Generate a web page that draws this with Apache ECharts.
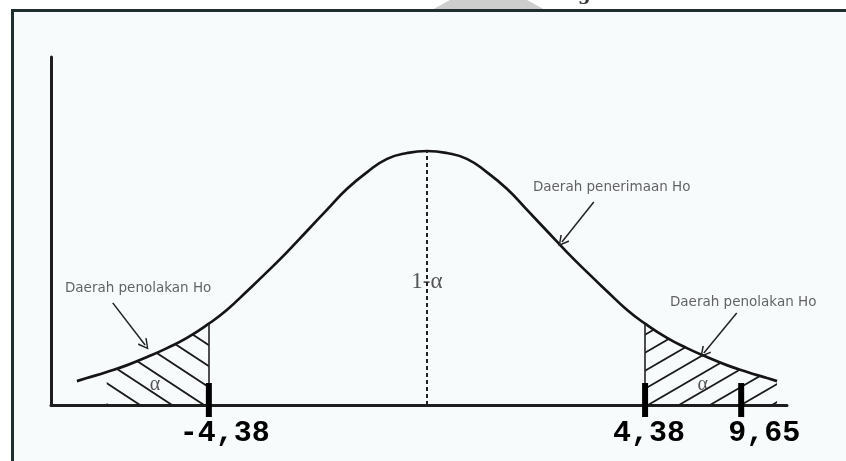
<!DOCTYPE html>
<html>
<head>
<meta charset="utf-8">
<script src="https://cdn.jsdelivr.net/npm/echarts@6.0.0/dist/echarts.min.js"></script>
<style>
html,body{margin:0;padding:0;background:#ffffff;}
#chart{width:846px;height:461px;}
</style>
</head>
<body>
<div id="chart"></div>
<script>
// ---- data ----
const curveX = [-7.03,-6.83,-6.43,-6.02,-5.62,-5.22,-4.82,-4.38,-4.02,-3.61,-3.21,-2.81,-2.41,-2.01,-1.61,-1.20,-0.80,-0.40,0,0.40,0.80,1.20,1.61,2.01,2.41,2.81,3.21,3.61,4.02,4.38,4.82,5.22,5.62,6.02,6.43,6.83,7.03];
const curveY = [9.4,10.6,13.0,15.7,18.9,22.4,26.4,32.0,37.4,44.9,52.4,60.2,68.5,76.8,85.0,91.7,96.9,99.2,100,99.2,96.9,91.7,85.0,76.8,68.5,60.2,52.4,44.9,37.4,32.0,26.4,22.4,18.9,15.7,13.0,10.6,9.4];
const criticalValues = [-4.38, 4.38];
const leftTailFrom = -6.5;
const tickPositions = [-4.38, 4.38, 6.31];
const tickLabels = ['-4,38', '4,38', '9,65'];
const regionTexts = ['Daerah penolakan Ho', 'Daerah penolakan Ho', 'Daerah penerimaan Ho'];
const regionTextPos = [[-5.80, 45.7], [6.35, 40.2], [3.71, 85.8]];
const arrowFrom = [[-6.31, 40.2], [6.22, 36.2], [3.35, 79.9]];
const arrowTo = [[-5.66, 23.6], [5.56, 20.5], [2.71, 64.2]];
const greekTexts = ['α', 'α', '1-α'];
const greekPos = [[-5.46, 7.9], [5.54, 7.9], [0, 48.4]];

// ---- helpers ----
const curve = curveX.map((x, i) => [x, curveY[i]]);
const yAt = (x) => curve[curveX.indexOf(x)][1];
const leftTail = curve.filter(p => p[0] >= leftTailFrom && p[0] <= criticalValues[0]);
const rightTail = curve.filter(p => p[0] >= criticalValues[1]);
const peak = curve.reduce((a, b) => (b[1] > a[1] ? b : a));

function hatch(W, H, phase, dir) {
  const c = document.createElement('canvas');
  c.width = W; c.height = H;
  const g = c.getContext('2d');
  g.strokeStyle = '#1a1a1a';
  g.lineWidth = 1.8;
  for (let k = -4; k <= 4; k++) {
    const c0 = phase + k * W;
    g.beginPath();
    if (dir === 'back') { g.moveTo(c0 - W, -H); g.lineTo(c0 + 2 * W, 2 * H); }
    else { g.moveTo(c0 + W, -H); g.lineTo(c0 - 2 * W, 2 * H); }
    g.stroke();
  }
  return { image: c, repeat: 'repeat' };
}

const chart = echarts.init(document.getElementById('chart'), null, { renderer: 'canvas' });

const textFont = { fontFamily: 'DejaVu Sans', fontSize: 13.5, color: '#3c3c3c' };
const labelOffsets = [[16, 0], [4, 0], [23, 0]];

const option = {
  animation: false,
  backgroundColor: '#ffffff',
  graphic: [
    { type: 'polygon', z: 0, shape: { points: [[430, 11], [450, 0], [527, 0], [547, 11]] }, style: { fill: '#cdcdcd' } },
    { type: 'text', z: 0, style: { text: 'g', x: 578, y: 4, font: 'bold 18px "DejaVu Serif"', fill: '#333', verticalAlign: 'bottom' } },
    { type: 'rect', z: 0, shape: { x: 12.5, y: 10.5, width: 900, height: 500 }, style: { fill: '#f8fbfc', stroke: '#1f2f2f', lineWidth: 3 } }
  ],
  grid: { left: 51, right: 59, top: 57, bottom: 56 },
  xAxis: {
    type: 'value', min: -7.55, max: 7.23,
    axisLine: { show: true, onZero: false, lineStyle: { color: '#1e1e1e', width: 3 } },
    axisTick: { show: false }, axisLabel: { show: false }, splitLine: { show: false }
  },
  yAxis: {
    type: 'value', min: 0, max: 137,
    axisLine: { show: true, onZero: false, lineStyle: { color: '#1e1e1e', width: 3 } },
    axisTick: { show: false }, axisLabel: { show: false }, splitLine: { show: false }
  },
  series: [
    {
      type: 'line', name: 'leftTail', data: leftTail, smooth: true, showSymbol: false,
      lineStyle: { width: 0 }, areaStyle: { color: hatch(32, 21, 2.9, 'back'), opacity: 1 }, z: 2
    },
    {
      type: 'line', name: 'rightTail', data: rightTail, smooth: true, showSymbol: false,
      lineStyle: { width: 0 }, areaStyle: { color: hatch(31, 18, 12.5, 'fwd'), opacity: 1 }, z: 2
    },
    {
      type: 'line', name: 'curve', data: curve, smooth: true, showSymbol: false,
      lineStyle: { color: '#151515', width: 2.7 }, z: 4,
      markLine: {
        silent: true, symbol: ['none', 'none'], label: { show: false },
        data: [
          [{ coord: [criticalValues[0], 0], lineStyle: { color: '#222', width: 1.6, type: 'solid' } }, { coord: [criticalValues[0], yAt(criticalValues[0])] }],
          [{ coord: [criticalValues[1], 0], lineStyle: { color: '#222', width: 1.6, type: 'solid' } }, { coord: [criticalValues[1], yAt(criticalValues[1])] }],
          [{ coord: [peak[0], 0], lineStyle: { color: '#222', width: 2, type: [4, 3] } }, { coord: [peak[0], peak[1]] }]
        ]
      }
    },
    {
      type: 'lines', coordinateSystem: 'cartesian2d', z: 5, silent: true,
      symbol: ['none', 'path://M5,0 L10,9 L9,10 L5,2.6 L1,10 L0,9 Z'], symbolSize: 11,
      lineStyle: { color: '#222', width: 1.5, opacity: 1 },
      data: arrowFrom.map((p, i) => ({ coords: [p, arrowTo[i]] }))
    },
    {
      type: 'scatter', z: 6, silent: true, symbolSize: 0,
      data: regionTexts.map((t, i) => ({ value: regionTextPos[i], name: t })),
      label: { show: true, position: 'inside', formatter: p => p.name, ...textFont }
    },
    {
      type: 'scatter', z: 6, silent: true, symbolSize: 0,
      data: greekTexts.map((t, i) => ({
        value: greekPos[i], name: t,
        label: { fontSize: t.length > 1 ? 23 : 20 }
      })),
      label: { show: true, position: 'inside', formatter: p => p.name, fontFamily: 'Liberation Serif', color: '#2a2a2a' }
    },
    {
      type: 'scatter', z: 7, silent: true,
      symbol: 'rect', symbolSize: [6, 34], symbolOffset: [0, -5],
      itemStyle: { color: '#000000', opacity: 1 },
      data: tickPositions.map((x, i) => ({
        value: [x, 0], name: tickLabels[i],
        label: { offset: labelOffsets[i] }
      })),
      label: {
        show: true, position: 'bottom', distance: 1, formatter: p => p.name,
        fontFamily: 'Liberation Mono', fontWeight: 'bold', fontSize: 30, color: '#000'
      }
    }
  ]
};
chart.setOption(option);
</script>
</body>
</html>
